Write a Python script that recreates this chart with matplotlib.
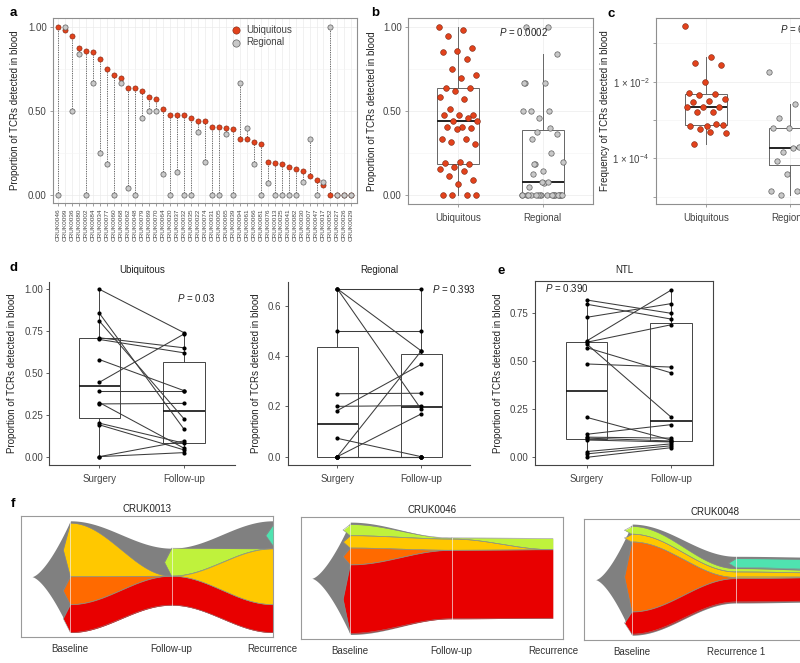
import numpy as np
import matplotlib
matplotlib.use("Agg")
import matplotlib.pyplot as plt
from matplotlib import cbook
from matplotlib.ticker import FixedLocator, NullFormatter

plt.rcParams['font.family'] = ['Liberation Sans', 'DejaVu Sans']
plt.rcParams['mathtext.fontset'] = 'custom'
plt.rcParams['mathtext.rm'] = 'Liberation Sans'
plt.rcParams['mathtext.it'] = 'Liberation Sans:italic'

# ---------------- data ----------------
sample_ids = ['CRUK0046', 'CRUK0099', 'CRUK0036', 'CRUK0080', 'CRUK0002', 'CRUK0084',
              'CRUK0034', 'CRUK0077', 'CRUK0060', 'CRUK0068', 'CRUK0062', 'CRUK0048',
              'CRUK0079', 'CRUK0069', 'CRUK0070', 'CRUK0064', 'CRUK0020', 'CRUK0037',
              'CRUK0032', 'CRUK0035', 'CRUK0022', 'CRUK0074', 'CRUK0031', 'CRUK0005',
              'CRUK0065', 'CRUK0039', 'CRUK0094', 'CRUK0061', 'CRUK0066', 'CRUK0081',
              'CRUK0076', 'CRUK0013', 'CRUK0025', 'CRUK0041', 'CRUK0082', 'CRUK0030',
              'CRUK0007', 'CRUK0047', 'CRUK0017', 'CRUK0052', 'CRUK0027', 'CRUK0026',
              'CRUK0029']
ubiq_prop = [1.00, 0.98, 0.947, 0.872, 0.856, 0.852, 0.807, 0.747, 0.712, 0.694,
             0.635, 0.635, 0.619, 0.581, 0.570, 0.510, 0.477, 0.477, 0.477, 0.457,
             0.443, 0.443, 0.407, 0.407, 0.400, 0.392, 0.333, 0.333, 0.317, 0.307,
             0.200, 0.190, 0.186, 0.167, 0.158, 0.146, 0.115, 0.091, 0.064, 0.0,
             0.0, 0.0, 0.0]
regional_prop = [0.0, 1.0, 0.5, 0.838, 0.0, 0.668, 0.25, 0.184, 0.0, 0.668,
                 0.046, 0.0, 0.457, 0.5, 0.5, 0.125, 0.0, 0.141, 0.0, 0.0,
                 0.374, 0.2, 0.0, 0.0, 0.362, 0.0, 0.668, 0.401, 0.184, 0.0,
                 0.075, 0.0, 0.0, 0.0, 0.0, 0.081, 0.333, 0.0, 0.081, 1.0,
                 0.0, 0.0, 0.0]

# panel c: frequency of TCRs in blood
ubiq_freq = [0.275, 0.0447, 0.0302, 0.0275, 0.0100, 0.0050, 0.0048, 0.0045,
             0.00347, 0.00316, 0.0030, 0.00224, 0.00224, 0.00214, 0.00166, 0.00166,
             0.00074, 0.00068, 0.00069, 0.00078, 0.00058, 0.00047, 0.00049, 0.000234]
regional_freq = [0.0178, 0.00257, 0.0011, 0.00063, 0.00063, 0.00063, 0.0002,
                 0.000148, 0.000191, 0.000191, 0.000085, 0.000069, 0.00004,
                 0.0000145, 0.0000145, 0.000011, 0.00032]

# panel d: paired surgery / follow-up
ubiq_surgery = [1.00, 0.857, 0.81, 0.71, 0.70, 0.58, 0.444, 0.394, 0.323, 0.315,
                0.20, 0.19, 0.0, 0.0]
ubiq_followup = [0.74, 0.163, 0.225, 0.65, 0.62, 0.394, 0.733, 0.394, 0.05, 0.318,
                 0.08, 0.04, 0.094, 0.024]
reg_surgery = [0.667, 0.667, 0.667, 0.5, 0.25, 0.2, 0.183, 0.073, 0.0, 0.0,
               0.0, 0.0, 0.0, 0.0]
reg_followup = [0.667, 0.42, 0.188, 0.5, 0.252, 0.203, 0.367, 0.0, 0.42, 0.17,
                0.0, 0.0, 0.0, 0.0]

# panel e: NTL
ntl_surgery = [0.819, 0.797, 0.729, 0.606, 0.599, 0.59, 0.571, 0.486, 0.208,
               0.12, 0.105, 0.10, 0.09, 0.03, 0.018, 0.0]
ntl_followup = [0.75, 0.72, 0.80, 0.87, 0.69, 0.21, 0.44, 0.47, 0.09,
                0.17, 0.10, 0.085, 0.08, 0.07, 0.06, 0.05]

# panel f: clone fractions (% of full height), layers listed top to bottom
fish_colors = {'gap': None, 'teal': '#4fe3b0', 'lime': '#bff23c', 'yellow': '#ffc800',
               'orange': '#ff6a00', 'red': '#e80000'}
f13_layers = ['gap', 'teal', 'gap', 'lime', 'yellow', 'orange', 'red', 'gap']
f13_fracs = [[2, 0, 0, 0, 48, 25, 25, 0],
             [0, 0, 0, 25, 0, 0, 26, 0],
             [4, 18, 3, 0, 50, 0, 25, 0]]
f13_times = ['Baseline', 'Follow-up', 'Recurrence']
f46_layers = ['gap', 'lime', 'yellow', 'orange', 'red', 'gap']
f46_fracs = [[2, 10, 11, 15, 61, 1],
             [0, 1, 10, 0, 61, 0],
             [0, 10, 0, 0, 61, 0]]
f46_times = ['Baseline', 'Follow-up', 'Recurrence']
f48_layers = ['gap', 'teal', 'gap', 'lime', 'yellow', 'orange', 'red', 'gap']
f48_fracs = [[2, 0, 0, 7, 7, 63, 20, 1],
             [2, 8, 1, 3, 5, 1, 21, 1],
             [2, 9, 1, 2, 4, 0, 21, 1]]
f48_times = ['Baseline', 'Recurrence 1', 'Recurrence 2']

# ---------------- styling ----------------
W, H = 800, 663
RED, RED_EDGE = '#e2421c', '#7a2410'
GREY, GREY_EDGE = '#c8c8c8', '#5e5e5e'
FRAME = '#8f8f8f'
TXT = '#444444'
FISH_GREY = '#808080'

fig = plt.figure(figsize=(W / 100, H / 100), dpi=100)
fig.patch.set_facecolor('white')


def add_ax(x0, y0, x1, y1):
    return fig.add_axes([x0 / W, 1 - y1 / H, (x1 - x0) / W, (y1 - y0) / H])


def jitter(n, width):
    return ((np.arange(n) * 0.6180339887) % 1.0 - 0.5) * width


def gg_frame(ax):
    for sp in ax.spines.values():
        sp.set_color(FRAME)
        sp.set_linewidth(0.8)
    ax.tick_params(length=2.5, width=0.6, color=FRAME, labelsize=7, labelcolor=TXT, pad=2)
    ax.set_axisbelow(True)


def letter(x, y, s):
    fig.text(x / W, 1 - y / H, s, fontsize=9.5, fontweight='bold', va='center')


# ---------------- a ----------------
ax = add_ax(53, 18, 357, 203)
idx = np.arange(1, len(sample_ids) + 1)
u = np.array(ubiq_prop)
r = np.array(regional_prop)
ax.vlines(idx, np.minimum(u, r), np.maximum(u, r), colors='#666666',
          linestyles=(0, (1.2, 1.2)), lw=0.7, zorder=2)
ax.scatter(idx, u, s=14, c=RED, edgecolors=RED_EDGE, linewidths=0.4, zorder=3, label='Ubiquitous')
ax.scatter(idx, r, s=14, c=GREY, edgecolors=GREY_EDGE, linewidths=0.5, zorder=4, label='Regional')
ax.set_xlim(0.25, len(idx) + 0.8)
ax.set_ylim(-0.045, 1.052)
ax.set_xticks(idx)
ax.set_xticklabels(sample_ids, rotation=90, fontsize=4.6)
ax.set_yticks([0, 0.5, 1.0])
ax.set_yticklabels(['0.00', '0.50', '1.00'])
ax.yaxis.set_minor_locator(FixedLocator([0.25, 0.75]))
ax.grid(True, which='major', color='#ebebeb', lw=0.5)
ax.grid(True, which='minor', axis='y', color='#f3f3f3', lw=0.4)
gg_frame(ax)
ax.tick_params(axis='x', labelsize=4.6, length=2)
ax.tick_params(which='minor', length=0)
ax.set_ylabel('Proportion of TCRs detected in blood', fontsize=7, color='#222222', labelpad=6)
leg = ax.legend(loc='upper left', bbox_to_anchor=(0.55, 0.995), frameon=False, fontsize=7,
                handletextpad=0.1, labelspacing=0.25, borderaxespad=0.2, markerscale=1.4)
for t in leg.get_texts():
    t.set_color(TXT)
letter(10, 13, 'a')

# ---------------- b ----------------
ax = add_ax(408, 18, 593, 204)
box_kw = dict(positions=[1, 2], widths=0.5, showcaps=False, showfliers=False,
              patch_artist=True,
              boxprops=dict(facecolor='none', edgecolor='#666666', lw=0.7),
              whiskerprops=dict(color='#666666', lw=0.7),
              medianprops=dict(color='#222222', lw=1.4))
ax.boxplot([ubiq_prop, regional_prop], zorder=2, **box_kw)
ax.scatter(1 + jitter(len(ubiq_prop), 0.46), ubiq_prop, s=17, c=RED, edgecolors=RED_EDGE,
           linewidths=0.4, zorder=3)
ax.scatter(2 + jitter(len(regional_prop), 0.5), regional_prop, s=15, c=GREY,
           edgecolors=GREY_EDGE, linewidths=0.5, zorder=3)
ax.set_xlim(0.4, 2.6)
ax.set_ylim(-0.052, 1.052)
ax.set_xticks([1, 2])
ax.set_xticklabels(['Ubiquitous', 'Regional'])
ax.set_yticks([0, 0.5, 1.0])
ax.set_yticklabels(['0.00', '0.50', '1.00'])
ax.yaxis.set_minor_locator(FixedLocator([0.25, 0.75]))
ax.grid(True, which='major', color='#ebebeb', lw=0.5)
ax.grid(True, which='minor', axis='y', color='#f3f3f3', lw=0.4)
gg_frame(ax)
ax.tick_params(which='minor', length=0)
ax.tick_params(axis='x', pad=4)
ax.set_ylabel('Proportion of TCRs detected in blood', fontsize=7, color='#222222', labelpad=4)
ax.text(1.48, 0.968, r'$P$ = 0.0002', fontsize=7, color='#222222', va='center')
letter(371, 13, 'b')

# ---------------- c ----------------
ax = add_ax(655.7, 18, 841, 204)
ax.set_yscale('log')
stats = cbook.boxplot_stats([np.log10(ubiq_freq), np.log10(regional_freq)], whis=1.5)
for st in stats:
    for key in ('med', 'q1', 'q3', 'whislo', 'whishi'):
        st[key] = 10 ** st[key]
    st['fliers'] = []
ax.bxp(stats, positions=[1, 2], widths=0.5, showcaps=False, showfliers=False,
       patch_artist=True,
       boxprops=dict(facecolor='none', edgecolor='#666666', lw=0.7),
       whiskerprops=dict(color='#666666', lw=0.7),
       medianprops=dict(color='#222222', lw=1.4))
ax.scatter(1 + jitter(len(ubiq_freq), 0.5), ubiq_freq, s=17, c=RED, edgecolors=RED_EDGE,
           linewidths=0.4, zorder=3)
ax.scatter(2 + jitter(len(regional_freq), 0.5), regional_freq, s=15, c=GREY,
           edgecolors=GREY_EDGE, linewidths=0.5, zorder=3)
ax.set_xlim(0.4, 2.6)
ax.set_ylim(10 ** -5.19, 10 ** -0.34)
ax.set_xticks([1, 2])
ax.set_xticklabels(['Ubiquitous', 'Regional'])
ax.yaxis.set_major_locator(FixedLocator([1e-4, 1e-2]))
ax.set_yticklabels([r'1 × 10$^{-4}$', r'1 × 10$^{-2}$'])
ax.yaxis.set_minor_locator(FixedLocator([1e-5, 1e-3, 1e-1]))
ax.yaxis.set_minor_formatter(NullFormatter())
ax.grid(True, which='major', color='#ebebeb', lw=0.5)
ax.grid(True, which='minor', axis='y', color='#f1f1f1', lw=0.4)
gg_frame(ax)
ax.tick_params(which='minor', length=2.5, color=FRAME)
ax.tick_params(axis='x', pad=4)
ax.set_ylabel('Frequency of TCRs detected in blood', fontsize=7, color='#222222', labelpad=2)
ax.text(1.88, 10 ** -0.62, r'$P$ = 6 × 10$^{-5}$', fontsize=7, color='#222222', va='center')
letter(607, 14, 'c')


# ---------------- d / e ----------------
def paired(ax, before, after, full_box=False):
    ax.boxplot([before, after], positions=[1, 2], widths=0.49, showcaps=False,
               showfliers=False, patch_artist=True, zorder=1,
               boxprops=dict(facecolor='none', edgecolor='#444444', lw=0.7),
               whiskerprops=dict(color='#444444', lw=0.7),
               medianprops=dict(color='#111111', lw=1.2))
    for b, a in zip(before, after):
        ax.plot([1, 2], [b, a], color='#3c3c3c', lw=0.75, zorder=2)
    ax.scatter(np.ones(len(before)), before, s=9, c='black', zorder=3, linewidths=0)
    ax.scatter(np.full(len(after), 2), after, s=9, c='black', zorder=3, linewidths=0)
    ax.set_xticks([1, 2])
    ax.set_xticklabels(['Surgery', 'Follow-up'])
    for side in ('left', 'bottom', 'top', 'right'):
        ax.spines[side].set_color('#444444')
        ax.spines[side].set_linewidth(0.8)
    if not full_box:
        ax.spines['top'].set_visible(False)
        ax.spines['right'].set_visible(False)
    ax.tick_params(length=2.5, width=0.6, color='#444444', labelsize=7, labelcolor=TXT, pad=2)
    ax.tick_params(axis='x', pad=4)
    ax.set_ylabel('Proportion of TCRs detected in blood', fontsize=7, color='#222222', labelpad=5)


ax = add_ax(49.3, 281.7, 235, 465)
paired(ax, ubiq_surgery, ubiq_followup)
ax.set_xlim(0.41, 2.6)
ax.set_ylim(-0.05, 1.045)
ax.set_yticks([0, 0.25, 0.5, 0.75, 1.0])
ax.set_yticklabels(['0.00', '0.25', '0.50', '0.75', '1.00'])
ax.set_title('Ubiquitous', fontsize=7, color='#222222', pad=6)
ax.text(1.92, 0.95, r'$P$ = 0.03', fontsize=7, color='#222222', va='center')
letter(10, 268, 'd')

ax = add_ax(287.7, 281.7, 470, 465)
paired(ax, reg_surgery, reg_followup)
ax.set_xlim(0.41, 2.58)
ax.set_ylim(-0.033, 0.695)
ax.set_yticks([0, 0.2, 0.4, 0.6])
ax.set_yticklabels(['0.0', '0.2', '0.4', '0.6'])
ax.set_title('Regional', fontsize=7, color='#222222', pad=6)
ax.text(2.13, 0.667, r'$P$ = 0.393', fontsize=7, color='#222222', va='center')

ax = add_ax(535, 281, 713, 465)
paired(ax, ntl_surgery, ntl_followup, full_box=True)
ax.set_xlim(0.385, 2.5)
ax.set_ylim(-0.04, 0.918)
ax.set_yticks([0, 0.25, 0.5, 0.75])
ax.set_yticklabels(['0.00', '0.25', '0.50', '0.75'])
ax.set_title('NTL', fontsize=7, color='#222222', pad=6)
ax.text(0.5, 0.88, r'$P$ = 0.390', fontsize=7, color='#222222', va='center')
letter(497, 271, 'e')


# ---------------- f ----------------
def smooth_bounds(f0, f1, s):
    e = (1 - np.cos(np.pi * s)) / 2
    thick = f0[None, :] + (f1 - f0)[None, :] * e[:, None]
    top = thick.sum(axis=1) / 2
    bounds = top[:, None] - np.concatenate([np.zeros((len(s), 1)), np.cumsum(thick, axis=1)], axis=1)
    return top, bounds


def notch(ax, t, upper, lower, color, d=0.07):
    mid = (upper + lower) / 2
    ax.fill_between([t - d, t], [mid, upper], [mid, lower], color=color, lw=0, zorder=3)
    ax.plot([t - d, t], [mid, upper], color='#8a8a8a', lw=0.35, zorder=4)
    ax.plot([t - d, t], [mid, lower], color='#8a8a8a', lw=0.35, zorder=4)


def fish(ax, layers, fracs, labels, title, head=-0.38):
    fr = np.asarray(fracs, dtype=float)
    times = np.arange(len(fr))
    colors = [fish_colors[l] for l in layers]
    # head of the fish
    xh = np.linspace(head, 0, 80)
    sh = (xh - head) / (0 - head)
    half0 = fr[0].sum() / 2
    ax.fill_between(xh, half0 * sh ** 1.5, -half0 * sh ** 1.5, color=FISH_GREY, lw=0, zorder=1)
    b0 = half0 - np.concatenate([[0], np.cumsum(fr[0])])
    for k, c in enumerate(colors):
        if c is not None and fr[0, k] > 0:
            notch(ax, 0, b0[k], b0[k + 1], c)
    for i in range(len(times) - 1):
        s = np.linspace(0, 1, 150)
        xs = times[i] + s
        top, bounds = smooth_bounds(fr[i], fr[i + 1], s)
        ax.fill_between(xs, top, -top, color=FISH_GREY, lw=0, zorder=1)
        b1 = bounds[-1]
        for k, c in enumerate(colors):
            if c is None:
                continue
            if not fr[:i + 1, k].any():
                if fr[i + 1, k] > 0:
                    notch(ax, times[i + 1], b1[k], b1[k + 1], c)
                continue
            if fr[i, k] == 0 and fr[i + 1, k] == 0:
                continue
            ax.fill_between(xs, bounds[:, k], bounds[:, k + 1], color=c, lw=0, zorder=2)
            ax.plot(xs, bounds[:, k], color='#8a8a8a', lw=0.35, zorder=2.5)
            ax.plot(xs, bounds[:, k + 1], color='#8a8a8a', lw=0.35, zorder=2.5)
    for i, t in enumerate(times):
        half = fr[i].sum() / 2
        ax.plot([t, t], [-half, half], color='white', lw=0.7, alpha=0.6, zorder=5)
    ax.set_ylim(-54.3, 54.3)
    ax.set_yticks([])
    ax.set_xticks(times)
    ax.set_xticklabels(labels)
    ax.tick_params(axis='x', length=0, labelsize=7, labelcolor='#333333', pad=5)
    for sp in ax.spines.values():
        sp.set_color('#9a9a9a')
        sp.set_linewidth(0.8)
    ax.set_title(title, fontsize=7, color='#222222', pad=3)


ax = add_ax(20.7, 516, 273.3, 637.3)
fish(ax, f13_layers, f13_fracs, f13_times, 'CRUK0013')
ax.set_xlim(-0.49, 2.005)
letter(11, 504, 'f')

ax = add_ax(301, 517.3, 563.3, 639.3)
fish(ax, f46_layers, f46_fracs, f46_times, 'CRUK0046')
ax.set_xlim(-0.485, 2.1)

ax = add_ax(584, 519.3, 846, 640)
fish(ax, f48_layers, f48_fracs, f48_times, 'CRUK0048', head=-0.35)
ax.set_xlim(-0.46, 2.06)

fig.savefig('out.png', dpi=100, facecolor='white')
